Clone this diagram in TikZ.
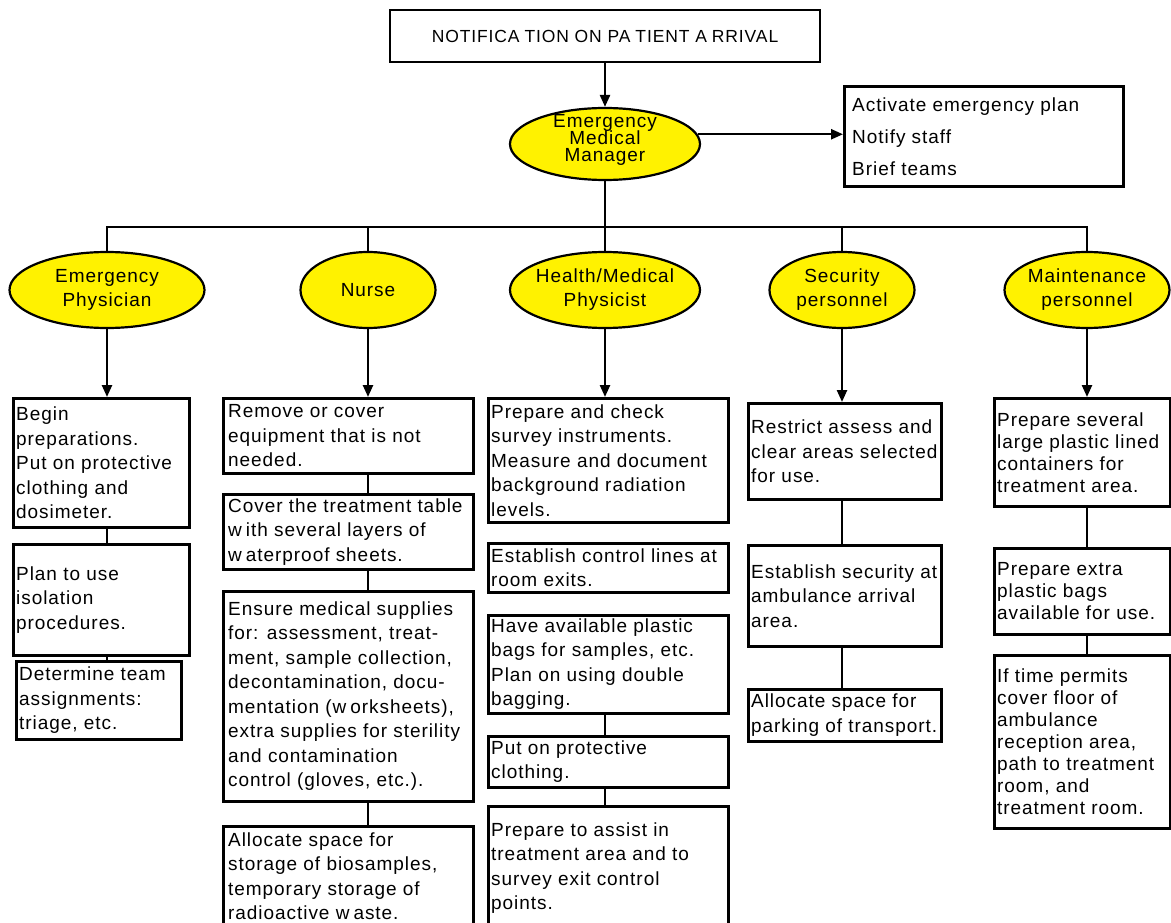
\documentclass[tikz,border=0pt]{standalone}
\usepackage{fontspec}
\setmainfont{Liberation Sans}
\newfontfamily\lsfont[LetterSpace=5]{Liberation Sans}
\newcommand\negls{\lineskiplimit=-20pt\relax}
\usetikzlibrary{arrows.meta,shapes.geometric}
\begin{document}
\begin{tikzpicture}[x=1pt,y=-1pt,
  box/.style={draw, line width=2.6pt, inner sep=0pt, anchor=north west},
  txt/.style={anchor=west, align=left, inner xsep=4pt, inner ysep=0pt,
    font=\fontsize{19}{24.5}\selectfont\lsfont},
  ell/.style={ellipse, draw, line width=2.2pt, fill=yellow, inner sep=-30pt,
    align=center, font=\fontsize{19}{24}\selectfont\lsfont},
  arr/.style={line width=2.4pt, -{Triangle[length=12pt,width=10pt]}},
  ln/.style={line width=2.4pt},
]
\useasboundingbox (0,0) rectangle (1171,923);

% top
\node[box, anchor=center, minimum width=430pt, minimum height=52pt,
  font=\fontsize{17.5}{20}\selectfont\lsfont] (top) at (605,36)
  {NOTIFICA\kern5pt TION ON PA\kern5pt TIENT A\kern5pt RRIVAL};
\node[ell, minimum width=190pt, minimum height=72pt,
  label={[align=center, yshift=4pt, inner sep=0pt, font=\fontsize{19}{17}\selectfont\lsfont\negls]center:{Emergency\\Medical\\Manager}}] (emm) at (605,144) {};
\node[box, minimum width=279pt, minimum height=100pt,
  label={[txt, inner xsep=9pt, font=\fontsize{19}{32}\selectfont\lsfont]west:{Activate emergency plan\\Notify staff\\Brief teams}}] (rb) at (843,85) {};

\draw[arr] (top.south) -- (emm.north);
\draw[arr] (emm.6) -- (emm.6 -| rb.west);

% role ellipses
\node[ell, minimum width=195pt, minimum height=76pt] (ep) at (107,290) {Emergency\\Physician};
\node[ell, minimum width=135pt, minimum height=76pt] (nu) at (368,290) {Nurse};
\node[ell, minimum width=190pt, minimum height=76pt] (hm) at (605,290) {Health/Medical\\Physicist};
\node[ell, minimum width=145pt, minimum height=76pt] (se) at (842,290) {Security\\personnel};
\node[ell, minimum width=165pt, minimum height=76pt] (ma) at (1087,290) {Maintenance\\personnel};

\coordinate (bus) at (605,227);
\draw[ln] (emm.south) -- (emm.south |- bus);
\draw[ln] (ep.north) -- (ep.north |- bus) -- (ma.north |- bus) -- (ma.north);
\draw[ln] (nu.north |- bus) -- (nu.north);
\draw[ln] (hm.north |- bus) -- (hm.north);
\draw[ln] (se.north |- bus) -- (se.north);

% Emergency Physician column
\node[box, minimum width=176pt, minimum height=129pt,
  label={[txt]west:{Begin\\preparations.\\Put on protective\\clothing and\\dosimeter.}}] (e1) at (12,397) {};
\node[box, minimum width=176pt, minimum height=111pt,
  label={[txt]west:{Plan to use\\isolation\\procedures.}}] (e2) at (12,543) {};
\node[box, minimum width=165pt, minimum height=78pt,
  label={[txt]west:{Determine team\\assignments:\\triage, etc.}}] (e3) at (15,660) {};

% Nurse column
\node[box, minimum width=250pt, minimum height=75pt,
  label={[txt, inner xsep=6pt]west:{Remove or cover\\equipment that is not\\needed.}}] (n1) at (222,397) {};
\node[box, minimum width=250pt, minimum height=75pt,
  label={[txt, inner xsep=6pt]west:{Cover the treatment table\\w\kern4pt ith several layers of\\w\kern4pt aterproof sheets.}}] (n2) at (222,493) {};
\node[box, minimum width=250pt, minimum height=210pt,
  label={[txt, inner xsep=6pt]west:{Ensure medical supplies\\for: assessment, treat-\\ment, sample collection,\\decontamination, docu-\\mentation (w\kern4pt orksheets),\\extra supplies for sterility\\and contamination\\control (gloves, etc.).}}] (n3) at (222,590) {};
\node[box, minimum width=250pt, minimum height=100pt,
  label={[txt, inner xsep=6pt]west:{Allocate space for\\storage of biosamples,\\temporary storage of\\radioactive w\kern4pt aste.}}] (n4) at (222,825) {};

% Health/Medical Physicist column
\node[box, minimum width=240pt, minimum height=124pt,
  label={[txt]west:{Prepare and check\\survey instruments.\\Measure and document\\background radiation\\levels.}}] (h1) at (487,397) {};
\node[box, minimum width=240pt, minimum height=49pt,
  label={[txt]west:{Establish control lines at\\room exits.}}] (h2) at (487,542) {};
\node[box, minimum width=240pt, minimum height=98pt,
  label={[txt]west:{Have available plastic\\bags for samples, etc.\\Plan on using double\\bagging.}}] (h3) at (487,614) {};
\node[box, minimum width=240pt, minimum height=51pt,
  label={[txt]west:{Put on protective\\clothing.}}] (h4) at (487,735) {};
\node[box, minimum width=240pt, minimum height=124pt,
  label={[txt]west:{Prepare to assist in\\treatment area and to\\survey exit control\\points.}}] (h5) at (487,805) {};

% Security column
\node[box, minimum width=193pt, minimum height=96pt,
  label={[txt]west:{Restrict assess and\\clear areas selected\\for use.}}] (s1) at (747,402) {};
\node[box, minimum width=193pt, minimum height=101pt,
  label={[txt]west:{Establish security at\\ambulance arrival\\area.}}] (s2) at (747,544) {};
\node[box, minimum width=193pt, minimum height=52pt,
  label={[txt]west:{Allocate space for\\parking of transport.}}] (s3) at (747,688) {};

% Maintenance column
\node[box, minimum width=176pt, minimum height=108pt,
  label={[txt, font=\fontsize{19}{22}\selectfont\lsfont]west:{Prepare several\\large plastic lined\\containers for\\treatment area.}}] (m1) at (993,397) {};
\node[box, minimum width=176pt, minimum height=86pt,
  label={[txt, font=\fontsize{19}{22}\selectfont\lsfont]west:{Prepare extra\\plastic bags\\available for use.}}] (m2) at (993,547) {};
\node[box, minimum width=176pt, minimum height=173pt,
  label={[txt, font=\fontsize{19}{22}\selectfont\lsfont]west:{If time permits\\cover floor of\\ambulance\\reception area,\\path to treatment\\room, and\\treatment room.}}] (m3) at (993,654) {};

% arrows from roles
\draw[arr] (ep.south) -- (ep.south |- e1.north);
\draw[arr] (nu.south) -- (nu.south |- n1.north);
\draw[arr] (hm.south) -- (hm.south |- h1.north);
\draw[arr] (se.south) -- (se.south |- s1.north);
\draw[arr] (ma.south) -- (ma.south |- m1.north);

% connectors
\draw[ln] (ep.south |- e1.south) -- (ep.south |- e2.north);
\draw[ln] (ep.south |- e2.south) -- (ep.south |- e3.north);
\draw[ln] (nu.south |- n1.south) -- (nu.south |- n2.north);
\draw[ln] (nu.south |- n2.south) -- (nu.south |- n3.north);
\draw[ln] (nu.south |- n3.south) -- (nu.south |- n4.north);
\draw[ln] (hm.south |- h3.south) -- (hm.south |- h4.north);
\draw[ln] (hm.south |- h4.south) -- (hm.south |- h5.north);
\draw[ln] (se.south |- s1.south) -- (se.south |- s2.north);
\draw[ln] (se.south |- s2.south) -- (se.south |- s3.north);
\draw[ln] (ma.south |- m1.south) -- (ma.south |- m2.north);
\draw[ln] (ma.south |- m2.south) -- (ma.south |- m3.north);
\end{tikzpicture}
\end{document}
